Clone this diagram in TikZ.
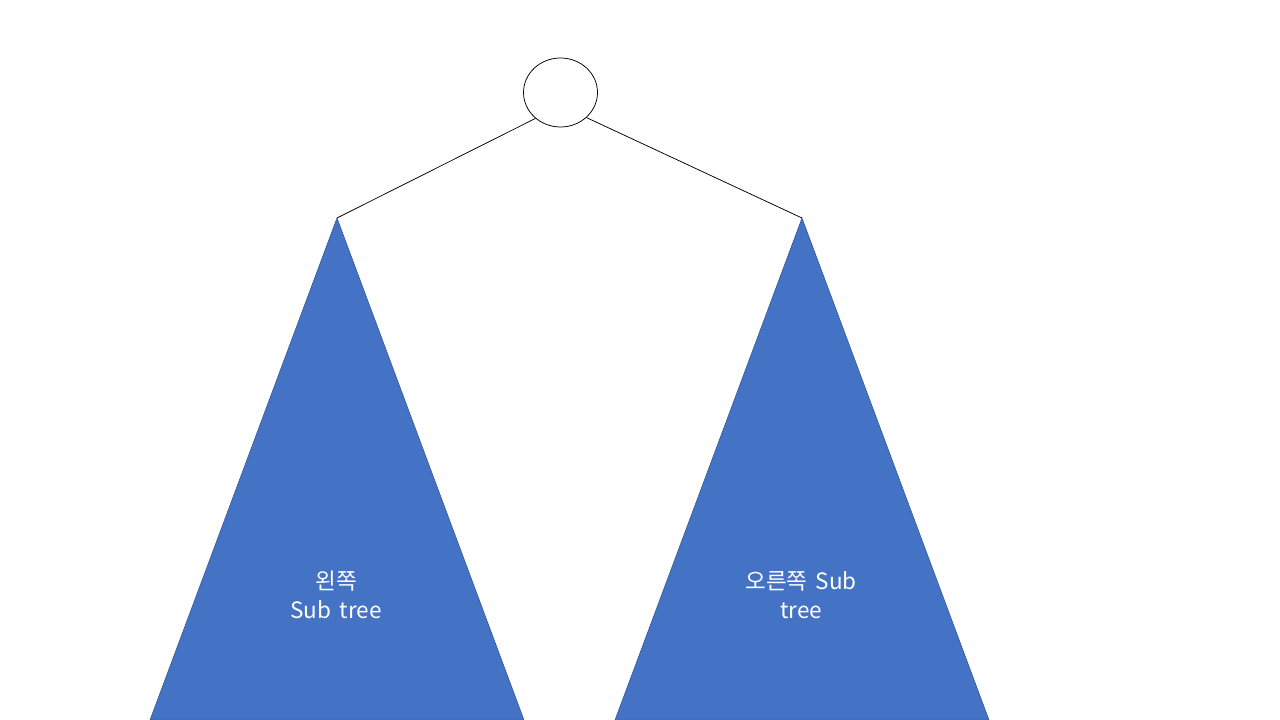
\documentclass[tikz,border=0pt]{standalone}
\usepackage{fontspec}
\usetikzlibrary{shapes.geometric}
\setmainfont[WordSpace=1.6]{Noto Sans CJK KR}
\definecolor{triblue}{HTML}{4472C4}
\definecolor{triedge}{HTML}{2F528F}
\begin{document}
\begin{tikzpicture}[x=1pt,y=-1pt,
  subtree/.style={fill=triblue,draw=triedge,line width=0.5pt},
  link/.style={draw=black,line width=0.75pt},
  lbl/.style={text=white,align=center,font=\fontsize{22.5}{29}\selectfont}]
\useasboundingbox[fill=white] (0,0) rectangle (1280,720);
\node[draw=black,line width=0.75pt,ellipse,minimum width=74pt,minimum height=69pt,inner sep=0pt] (root) at (560.5,92.5) {};
\coordinate (lapex) at (337,218);
\coordinate (lbl1) at (150,720);
\coordinate (lbr1) at (524,720);
\coordinate (rapex) at (802,218);
\coordinate (rbl1) at (615,720);
\coordinate (rbr1) at (989,720);
\path[subtree] (lapex) -- (lbr1) -- (lbl1) -- cycle;
\path[subtree] (rapex) -- (rbr1) -- (rbl1) -- cycle;
\draw[link] (root.226) -- (lapex);
\draw[link] (root.316) -- (rapex);
\node[lbl] (ltext) at (336,595) {왼쪽\\Sub tree};
\node[lbl] (rtext) at (801,595) {오른쪽 Sub\\tree};
\end{tikzpicture}
\end{document}
